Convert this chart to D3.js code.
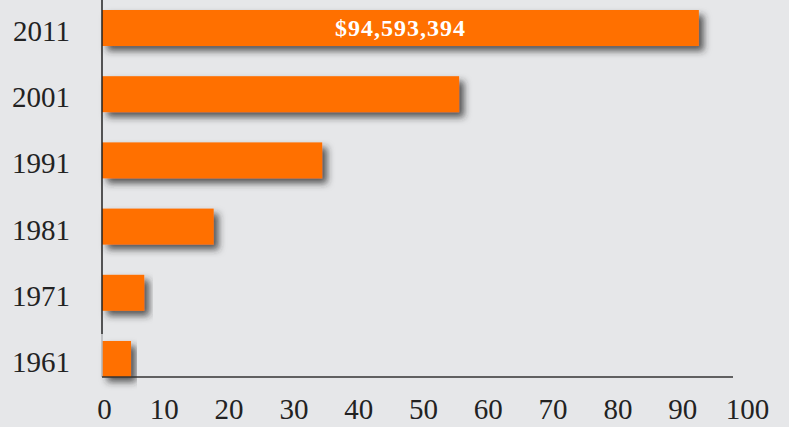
<!DOCTYPE html>
<html>
<head>
<meta charset="utf-8">
<script src="https://cdn.jsdelivr.net/npm/d3@7"></script>
<style>
  html, body { margin: 0; padding: 0; background: #e6e7e9; }
  svg { display: block; }
  .tick text { font-family: "Liberation Serif", serif; font-size: 29px; fill: #222; }
</style>
</head>
<body>
<div class="chart"></div>
<script>
// years, top to bottom in the picture
const years = ['2011', '2001', '1991', '1981', '1971', '1961'];
// values in millions of dollars
const values = [94.59, 56.6, 34.9, 17.7, 6.7, 4.6];
const xTicks = [0, 10, 20, 30, 40, 50, 60, 70, 80, 90, 100];
const topLabel = '$94,593,394';

const width = 789;
const height = 427;
const data = years.map((y, i) => ({ year: y, value: values[i] }));

const svg = d3.select('.chart')
    .append('svg')
    .attr('width', width)
    .attr('height', height);

svg.append('rect')
    .attr('width', width)
    .attr('height', height)
    .attr('fill', '#e6e7e9');

// drop shadow under bars
const defs = svg.append('defs');
defs.append('filter')
    .attr('id', 'shadow')
    .attr('x', '-20%').attr('y', '-50%')
    .attr('width', '140%').attr('height', '200%')
    .append('feDropShadow')
    .attr('dx', 5)
    .attr('dy', 5)
    .attr('stdDeviation', 3.5)
    .attr('flood-color', '#2a2a2a')
    .attr('flood-opacity', 0.75);

const x = d3.scaleLinear()
    .domain([0, 100])
    .range([102, 733]);

// tick labels sit a little wider than the bar scale in the original
const xLabels = d3.scaleLinear()
    .domain([0, 100])
    .range([99, 747]);

const y = d3.scaleBand()
    .domain(years)
    .range([10, 377])
    .paddingInner(0.456)
    .paddingOuter(0);

// bars
svg.append('g')
    .selectAll('.bar')
    .data(data)
    .enter()
    .append('rect')
    .attr('class', 'bar')
    .attr('x', x(0))
    .attr('y', (d) => y(d.year))
    .attr('width', (d) => x(d.value) - x(0))
    .attr('height', y.bandwidth())
    .attr('fill', '#ff7000')
    .attr('filter', 'url(#shadow)');

// label inside the top bar
svg.append('text')
    .attr('x', (x(0) + x(values[0])) / 2)
    .attr('y', y(years[0]) + y.bandwidth() / 2 + 8)
    .attr('text-anchor', 'middle')
    .attr('font-family', '"Liberation Serif", serif')
    .attr('font-weight', 'bold')
    .attr('font-size', 24)
    .attr('letter-spacing', 1)
    .attr('fill', '#fff')
    .text(topLabel);

// y axis
const yAxis = svg.append('g')
    .attr('transform', `translate(${x(0)},0)`)
    .call(d3.axisLeft(y).tickSize(0).tickPadding(32));
yAxis.select('.domain').remove();
yAxis.selectAll('.tick text').attr('dy', '0.45em');

svg.append('line')
    .attr('x1', x(0)).attr('x2', x(0))
    .attr('y1', 0).attr('y2', 334)
    .attr('stroke', '#222')
    .attr('stroke-width', 1.5);
svg.append('line')
    .attr('x1', x(0)).attr('x2', x(0))
    .attr('y1', 334).attr('y2', 377)
    .attr('stroke', '#b5b6b8')
    .attr('stroke-width', 1.5);

// x axis
const xAxis = svg.append('g')
    .attr('transform', 'translate(0,377)')
    .call(d3.axisBottom(xLabels).tickValues(xTicks).tickSize(0).tickPadding(21));
xAxis.select('.domain').remove();
// the zero label is nudged right of the axis origin in the original
xAxis.selectAll('.tick').filter((d) => d === 0).select('text').attr('dx', 5);

svg.append('line')
    .attr('x1', x(0)).attr('x2', x(100))
    .attr('y1', 377).attr('y2', 377)
    .attr('stroke', '#333')
    .attr('stroke-width', 1.5);
</script>
</body>
</html>
